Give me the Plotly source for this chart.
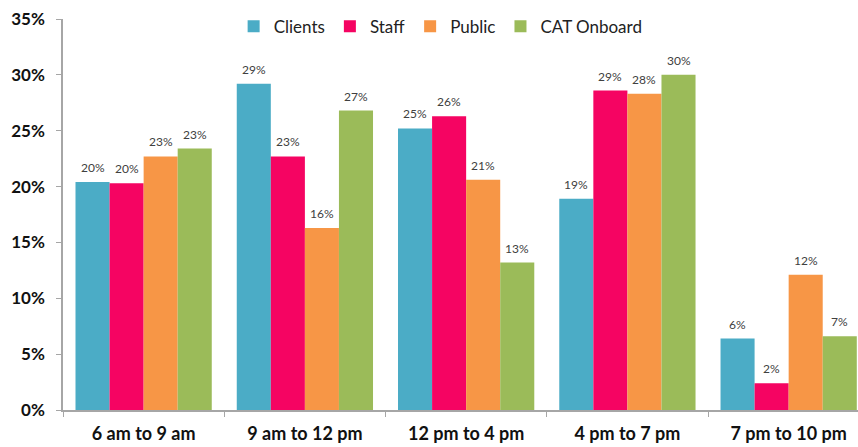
import plotly.graph_objects as go

categories = ["6 am to 9 am", "9 am to 12 pm", "12 pm to 4 pm", "4 pm to 7 pm", "7 pm to 10 pm"]
series_names = ["Clients", "Staff", "Public", "CAT Onboard"]
clients = [20.4, 29.2, 25.2, 18.9, 6.4]
staff = [20.3, 22.7, 26.3, 28.6, 2.4]
public = [22.7, 16.3, 20.6, 28.3, 12.1]
cat_onboard = [23.4, 26.8, 13.2, 30.0, 6.6]
colors = ["#4BACC6", "#F50462", "#F79646", "#9BBB59"]
y_ticks = [0, 5, 10, 15, 20, 25, 30, 35]
y_tick_labels = [f"{v}%" for v in y_ticks]

all_series = [clients, staff, public, cat_onboard]
bargap = 0.155
bar_w = (1 - bargap) / len(all_series)

fig = go.Figure()
for name, vals, col in zip(series_names, all_series, colors):
    fig.add_trace(go.Bar(x=categories, y=vals, name=name, marker_color=col,
                         marker_line_width=0))

annotations = []
for k, vals in enumerate(all_series):
    off = (k - (len(all_series) - 1) / 2) * bar_w
    for i, v in enumerate(vals):
        annotations.append(dict(x=i + off, y=v, xref="x", yref="y", text=f"{v:.0f}%",
                                showarrow=False, yanchor="bottom", yshift=5,
                                font=dict(family="Lato", size=12, color="#404040")))

fig.update_layout(
    width=858, height=447,
    margin=dict(l=63, r=0, t=19, b=37, autoexpand=False),
    plot_bgcolor="white", paper_bgcolor="white",
    barmode="group", bargap=bargap, bargroupgap=0,
    font=dict(family="Lato", color="#1a1a1a"),
    legend=dict(orientation="h", x=0.475, xanchor="center", y=0.98, yanchor="middle",
                font=dict(family="Lato", size=17, color="#222222"), itemwidth=30,
                bgcolor="rgba(0,0,0,0)"),
    annotations=annotations,
    showlegend=True,
)
fig.update_xaxes(range=[-0.5, 4.43], showline=True, linecolor="#A6A6A6", linewidth=1.5,
                 ticks="outside", tickson="boundaries", ticklen=5, tickcolor="#A6A6A6",
                 tickfont=dict(family="Lato", size=18, color="#111111", weight="bold"),
                 ticklabelstandoff=7, showgrid=False, automargin=False)
fig.update_yaxes(range=[0, 35], tickvals=y_ticks, ticktext=y_tick_labels, showline=True,
                 linecolor="#A6A6A6", linewidth=1.5, ticks="outside", ticklen=5,
                 tickcolor="#A6A6A6", showgrid=False, zeroline=False,
                 tickfont=dict(family="Lato", size=17, color="#111111", weight="bold"),
                 ticklabelstandoff=8, automargin=False)

fig.write_html("out.html", config={"displayModeBar": False},
               post_script="document.body.style.margin='0';document.body.style.overflow='hidden';")
